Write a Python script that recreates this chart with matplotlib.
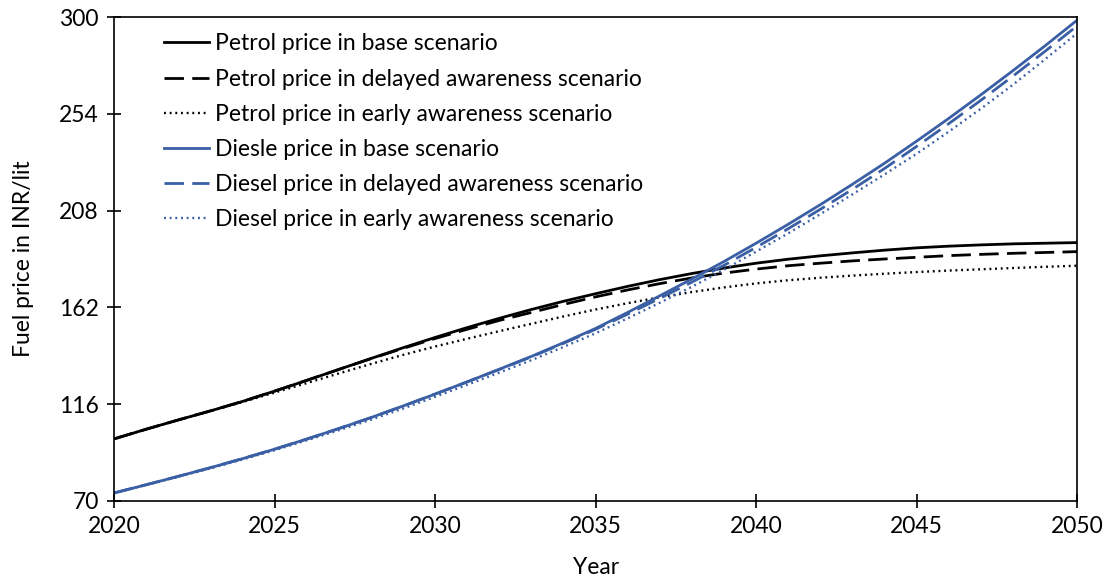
import matplotlib.pyplot as plt

years = list(range(2020, 2051))

petrol_base = [99.5, 104.1, 108.5, 112.8, 117.3, 122.2, 127.3, 132.5, 137.7, 142.8,
               147.7, 152.4, 156.8, 161.0, 164.9, 168.5, 172.0, 175.2, 178.1, 180.7,
               183.0, 184.9, 186.5, 187.9, 189.2, 190.3, 191.1, 191.7, 192.2, 192.5, 192.8]
petrol_delayed = [99.5, 104.1, 108.5, 112.8, 117.3, 122.2, 127.3, 132.5, 137.6, 142.5,
                  147.2, 151.6, 155.8, 159.6, 163.4, 167.0, 170.3, 173.3, 176.0, 178.3,
                  180.2, 181.8, 183.0, 184.1, 185.0, 185.8, 186.6, 187.2, 187.7, 188.1, 188.5]
petrol_early = [99.5, 104.1, 108.5, 112.7, 117.0, 121.5, 126.0, 130.6, 135.1, 139.4,
                143.4, 147.1, 150.7, 154.2, 157.7, 161.0, 164.0, 166.8, 169.3, 171.5,
                173.4, 174.9, 176.1, 177.1, 178.0, 178.8, 179.5, 180.1, 180.7, 181.3, 181.8]
diesel_base = [73.8, 77.7, 81.7, 85.8, 90.1, 94.6, 99.4, 104.4, 109.6, 115.1,
               120.8, 126.6, 132.6, 138.7, 145.2, 152.0, 159.6, 167.5, 175.5, 183.8,
               192.5, 201.5, 210.8, 220.5, 230.5, 241.0, 251.8, 263.0, 274.5, 286.3, 298.5]
diesel_delayed = [73.8, 77.7, 81.7, 85.8, 90.1, 94.6, 99.4, 104.4, 109.6, 115.1,
                  120.8, 126.6, 132.5, 138.5, 144.9, 151.6, 158.8, 166.3, 174.0, 182.0,
                  190.5, 199.4, 208.6, 218.1, 228.0, 238.5, 249.3, 260.4, 271.9, 283.7, 295.8]
diesel_early = [73.8, 77.6, 81.5, 85.5, 89.7, 94.1, 98.8, 103.6, 108.6, 113.9,
                119.5, 125.2, 131.0, 136.9, 143.2, 149.7, 156.8, 164.2, 171.8, 179.9,
                188.5, 197.2, 206.3, 215.7, 225.2, 235.0, 245.5, 256.4, 267.8, 279.9, 292.3]

labels = ["Petrol price in base scenario",
          "Petrol price in delayed awareness scenario",
          "Petrol price in early awareness scenario",
          "Diesle price in base scenario",
          "Diesel price in delayed awareness scenario",
          "Diesel price in early awareness scenario"]

yticks = [70, 116, 162, 208, 254, 300]
xticks = [2020, 2025, 2030, 2035, 2040, 2045, 2050]

blue = "#3A5FA5"
plt.rcParams['font.family'] = ['Lato', 'DejaVu Sans']
fs = 16.5

fig = plt.figure(figsize=(11.07, 5.83), dpi=100)
ax = fig.add_axes([0.103, 0.1407, 0.870, 0.8301])

dash = (0, (7, 3))
dot = (0, (0.8, 1.6))
lw = 2.0
ax.plot(years, petrol_base, color="black", lw=lw, label=labels[0])
ax.plot(years, petrol_delayed, color="black", lw=lw, linestyle=dash, label=labels[1])
ax.plot(years, petrol_early, color="black", lw=1.7, linestyle=dot, label=labels[2])
ax.plot(years, diesel_base, color=blue, lw=lw, label=labels[3])
ax.plot(years, diesel_delayed, color=blue, lw=lw, linestyle=dash, label=labels[4])
ax.plot(years, diesel_early, color=blue, lw=1.7, linestyle=dot, label=labels[5])

ax.set_xlim(2020, 2050)
ax.set_ylim(70, 300)
ax.set_xticks(xticks)
ax.set_yticks(yticks)
ax.tick_params(direction="inout", length=10, width=1.2, labelsize=fs, pad=6)
for s in ax.spines.values():
    s.set_linewidth(1.2)

ax.set_xlabel("Year", fontsize=fs, labelpad=14)
ax.set_ylabel("Fuel price in INR/lit", fontsize=fs, labelpad=18)

ax.legend(loc="upper left", bbox_to_anchor=(0.042, 0.985), frameon=False,
          fontsize=fs, handlelength=2.0, handletextpad=0.25, labelspacing=0.62,
          borderaxespad=0)

fig.savefig("out.png", dpi=100)
